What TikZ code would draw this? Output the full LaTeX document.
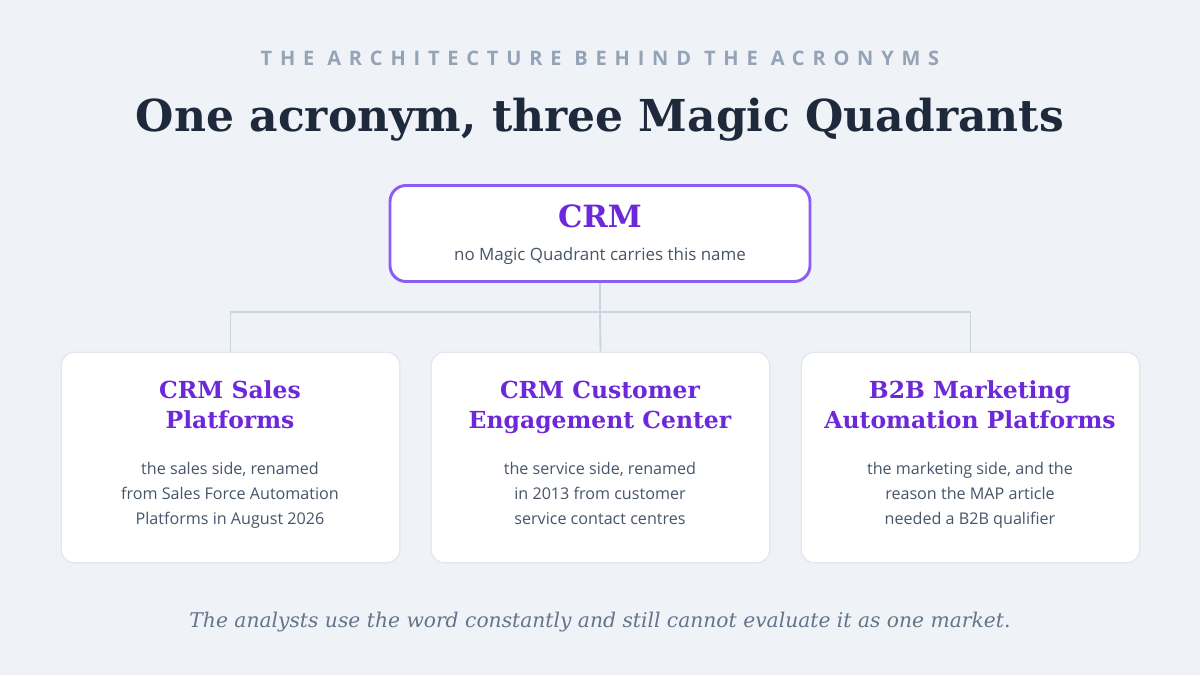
\documentclass[tikz,border=0pt]{standalone}
\usepackage{fontspec}
\setmainfont{DejaVu Serif}
\newfontfamily\bodyfont{Open Sans}
\newfontfamily\kickerfont[LetterSpace=39]{Open Sans}
\usepackage{xcolor}
\usetikzlibrary{positioning}

\definecolor{pagebg}{HTML}{EFF3F8}
\definecolor{headcol}{HTML}{1E293B}
\definecolor{kickcol}{HTML}{94A3B8}
\definecolor{purptext}{HTML}{6D28D9}
\definecolor{purpline}{HTML}{8B5CF6}
\definecolor{linkcol}{HTML}{CBD5E1}
\definecolor{cardline}{HTML}{E2E8F0}
\definecolor{bodycol}{HTML}{475569}
\definecolor{footcol}{HTML}{64748B}

\begin{document}
\begin{tikzpicture}[x=0.75pt, y=-0.75pt,
    card/.style={draw=cardline, line width=1pt, fill=white, rounded corners=10pt,
      minimum width=254pt, minimum height=158pt, inner sep=0pt},
    rootbox/.style={draw=purpline, line width=2.2pt, fill=white, rounded corners=12pt,
      minimum width=315pt, minimum height=72pt, inner sep=0pt},
    cardtitle/.style={align=center, text=purptext, font=\fontsize{17.6}{22.5}\selectfont\bfseries,
      execute at end node=\strut},
    cardtext/.style={align=center, text=bodycol, font=\bodyfont\fontsize{12.1}{18.75}\selectfont,
      execute at end node=\strut},
    link/.style={draw=linkcol, line width=1.4pt}]
  % page
  \fill[pagebg] (0,0) rectangle (1200,675);
  \useasboundingbox (0,0) rectangle (1200,675);

  % headings
  \node[text=kickcol, font=\kickerfont\fontsize{15}{17}\selectfont\bfseries] at (600,58) (kicker) {THE ARCHITECTURE BEHIND THE ACRONYMS};
  \node[text=headcol, font=\fontsize{33}{40}\selectfont\bfseries] at (600,120) (title) {One acronym, three Magic Quadrants};

  % root
  \node[rootbox] at (600,233.5) (crm) {};
  \node[text=purptext, font=\fontsize{23}{28}\selectfont\bfseries] at (600,216) (crmname) {CRM};
  \node[text=bodycol, font=\bodyfont\fontsize{12.7}{16}\selectfont] at (600,256) (crmnote) {no Magic Quadrant carries this name};

  % three quadrants
  \node[card] at (230.5,457.5) (sales) {};
  \node[card] at (600.5,457.5) (engage) {};
  \node[card] at (970.5,457.5) (b2b) {};

  \node[cardtitle] at (230,409) (salesname) {CRM Sales\\Platforms};
  \node[cardtitle] at (600,409) (engagename) {CRM Customer\\Engagement Center};
  \node[cardtitle] at (970,409) (b2bname) {B2B Marketing\\Automation Platforms};

  \node[cardtext] at (230,497) (salesnote) {the sales side, renamed\\from Sales Force Automation\\Platforms in August 2026};
  \node[cardtext] at (600,497) (engagenote) {the service side, renamed\\in 2013 from customer\\service contact centres};
  \node[cardtext] at (970,497) (b2bnote) {the marketing side, and the\\reason the MAP article\\needed a B2B qualifier};

  % connectors
  \coordinate (fork) at (600,312);
  \draw[link] (crm.south) -- (fork);
  \draw[link] (fork) -| (sales.north);
  \draw[link] (fork) -- (engage.north);
  \draw[link] (fork) -| (b2b.north);

  % footer
  \node[text=footcol, font=\fontsize{15.2}{18}\selectfont\itshape] at (600,622) (footer) {The analysts use the word constantly and still cannot evaluate it as one market.};
\end{tikzpicture}
\end{document}
